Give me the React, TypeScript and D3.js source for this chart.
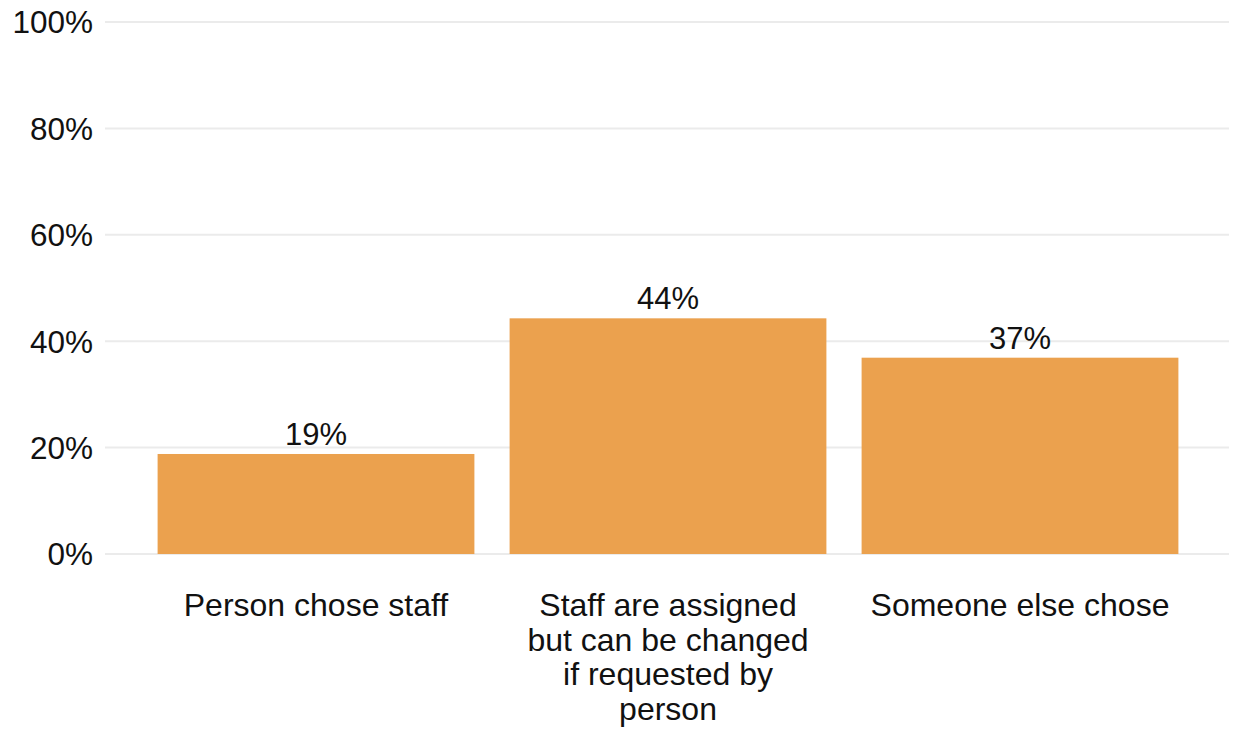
import React from "react";
import * as d3 from "d3";

const categories = ["Person chose staff", "Staff are assigned but can be changed if requested by person", "Someone else chose"];
const categoryLines = [["Person chose staff"], ["Staff are assigned", "but can be changed", "if requested by", "person"], ["Someone else chose"]];
const values = [18.8, 44.3, 36.9];
const valueLabels = ["19%", "44%", "37%"];
const yTicks = [0, 20, 40, 60, 80, 100];

const W = 1233;
const H = 731;
const FONT = "'Liberation Sans', Arial, sans-serif";

export default function App() {
  const x = d3.scaleBand<string>().domain(categories).range([140, 1196]).paddingInner(0.1).paddingOuter(0.05);
  const y = d3.scaleLinear().domain([0, 100]).range([554, 22]);
  const gridX0 = 105;
  const gridX1 = 1229;
  return (
    <svg width={W} height={H} style={{ position: "absolute", left: 0, top: 0, background: "#fff" }} fontFamily={FONT}>
      <g>
        {yTicks.map((t) => (
          <g key={t}>
            <line x1={gridX0} x2={gridX1} y1={y(t)} y2={y(t)} stroke="#ebebeb" strokeWidth={2} />
            <text x={93} y={y(t)} dy="0.36em" textAnchor="end" fontSize={31.5} fill="#111">{t}%</text>
          </g>
        ))}
      </g>
      <g>
        {categories.map((c, i) => (
          <rect key={c} x={x(c)} y={y(values[i])} width={x.bandwidth()} height={y(0) - y(values[i])} fill="#EBA14E" />
        ))}
      </g>
      <g>
        {categories.map((c, i) => (
          <text key={c} x={(x(c) as number) + x.bandwidth() / 2} y={y(values[i]) - 9} textAnchor="middle" fontSize={31} fill="#111">
            {valueLabels[i]}
          </text>
        ))}
      </g>
      <g>
        {categories.map((c, i) => (
          <text key={c} x={(x(c) as number) + x.bandwidth() / 2} y={616} textAnchor="middle" fontSize={32} fill="#111">
            {categoryLines[i].map((l, j) => (
              <tspan key={j} x={(x(c) as number) + x.bandwidth() / 2} dy={j === 0 ? 0 : 34.7}>{l}</tspan>
            ))}
          </text>
        ))}
      </g>
    </svg>
  );
}
